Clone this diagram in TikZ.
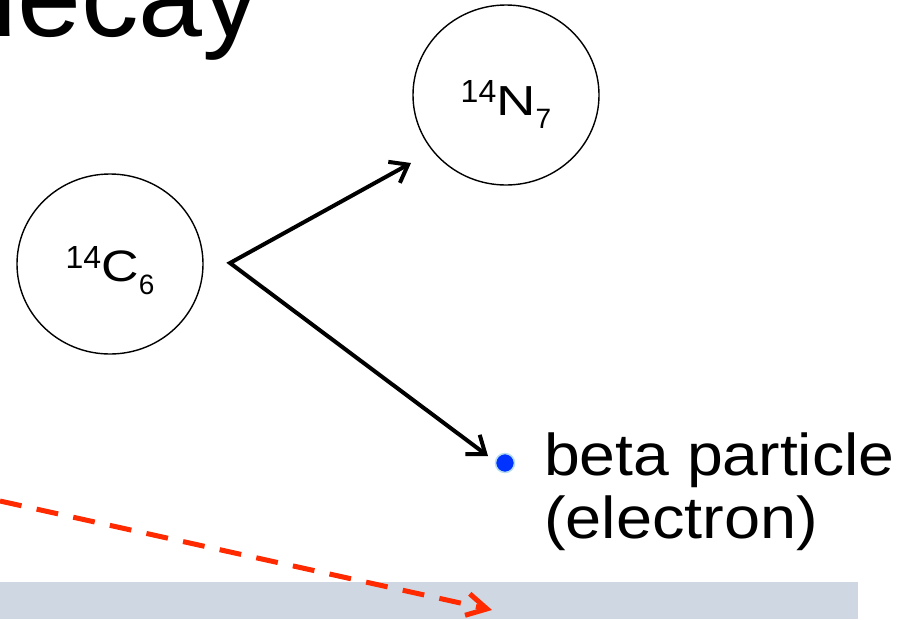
\documentclass[tikz,border=0pt]{standalone}
\usepackage{fontspec}
\usepackage{graphicx}
\setmainfont{Liberation Sans}
\usetikzlibrary{arrows.meta,shapes.geometric}
\definecolor{barcol}{HTML}{CFD8E2}
\definecolor{redarr}{HTML}{FF2A00}
\definecolor{dotblue}{HTML}{0033FF}
\definecolor{dotring}{HTML}{B8DDEE}
\newcommand\isot[5]{{\fontsize{32}{32}\selectfont\raisebox{13pt}{#1}}\scalebox{#4}[1]{\fontsize{#5}{#5}\selectfont #2}\raisebox{-13pt}{\fontsize{28}{28}\selectfont #3}}
\begin{document}
\begin{tikzpicture}[x=1pt,y=-1pt,
  atom/.style={draw=black, line width=1.4pt, ellipse, minimum width=186pt, minimum height=180pt, inner sep=0pt},
  lbl/.style={inner sep=0pt, anchor=base},
  blk/.style={draw=black, line width=4pt, {Straight Barb[length=16pt,width=24pt]}-{Straight Barb[length=16pt,width=24pt]}},
  redline/.style={draw=redarr, line width=5pt, dash pattern=on 22pt off 15.5pt, -{Straight Barb[length=20pt,width=22pt]}},
  bigtext/.style={inner sep=0pt, anchor=base west}]
\useasboundingbox (0,0) rectangle (904,619);
% bottom bar
\fill[barcol] (0,582) rectangle (858,619);
% title (cut at top)
\node[bigtext] (title) at (-47,36) {\fontsize{115}{115}\selectfont decay};
% atoms
\node[atom] (C) at (110,264) {};
\node[atom] (N) at (506,95) {};
\node[lbl] (Ct) at (110,281) {\isot{14}{C}{6}{1.18}{44}};
\node[lbl] (Nt) at (506,115) {\isot{14}{N}{7}{1.3}{42}};
% electron
\node[circle, fill=dotblue, draw=dotring, line width=1.5pt, minimum size=19pt, inner sep=0pt] (e) at (505,463) {};
\node[bigtext] (beta) at (544,475) {\scalebox{1.09}[1]{\fontsize{59}{59}\selectfont beta particle}};
\node[bigtext] (elec) at (544,538) {\scalebox{1.1}[1]{\fontsize{59}{59}\selectfont (electron)}};
% arrows
\coordinate (v) at (230,263);
\coordinate (tN) at (411,163);
\coordinate (tE) at (488,456);
\draw[blk, line join=miter] (tN) -- (v) -- (tE);
% red dashed arrow
\coordinate (r0) at (0,501);
\coordinate (r1) at (492,610);
\draw[redline] (r0) -- (r1);
\end{tikzpicture}
\end{document}
